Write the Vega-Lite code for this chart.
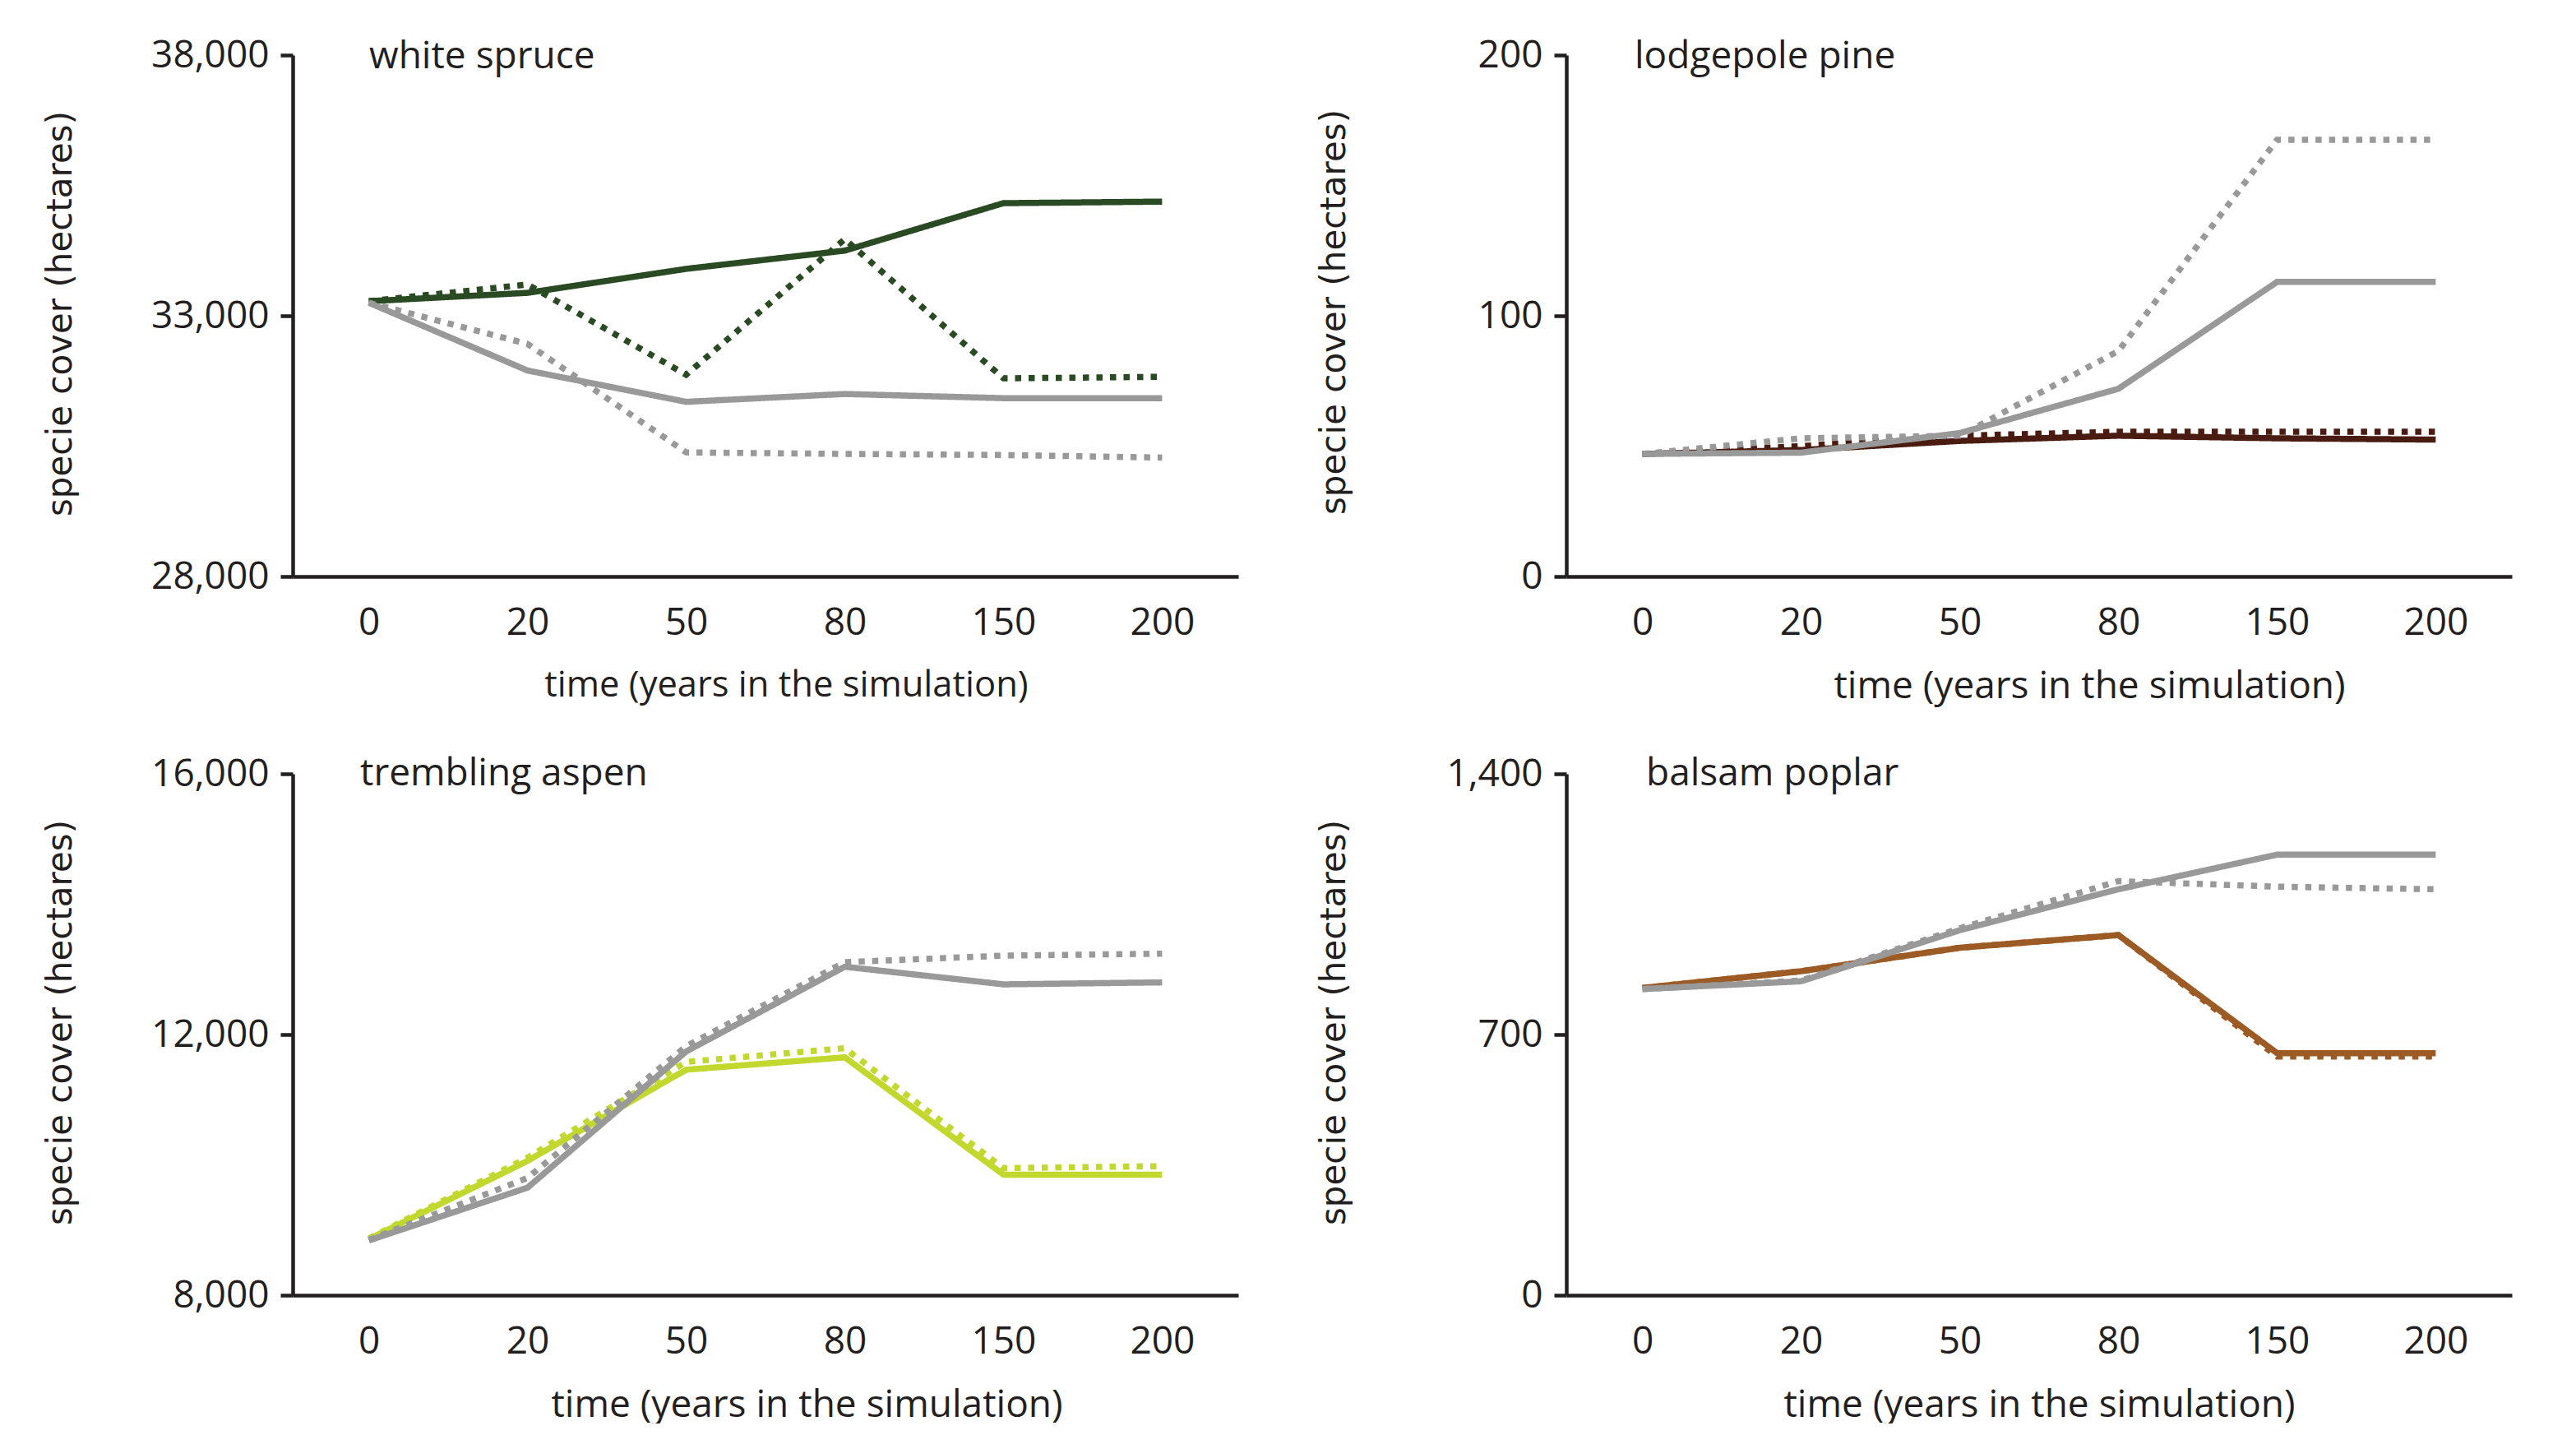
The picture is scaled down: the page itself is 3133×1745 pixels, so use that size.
{
  "$schema": "https://vega.github.io/schema/vega-lite/v6.json",
  "background": "white",
  "padding": {"left": 51, "top": 44, "right": 79, "bottom": 0},
  "bounds": "flush",
  "columns": 2,
  "spacing": {"row": 240, "column": 399},
  "config": {
    "view": {"stroke": null},
    "axis": {"grid": false, "domainColor": "#231f20", "domainWidth": 4.5, "tickColor": "#231f20", "tickWidth": 4.5, "labelColor": "#231f20", "titleColor": "#231f20", "labelFont": "Open Sans", "labelFontSize": 46, "titleFont": "Open Sans", "titleFontSize": 46, "titleFontWeight": "normal"},
    "axisX": {"ticks": false, "labelAngle": 0, "labelPadding": 34, "titleY": 111, "titleBaseline": "top"},
    "axisY": {"tickSize": 15, "labelPadding": 14, "titleFont": "DejaVu Sans", "titleFontSize": 42, "titleX": -283, "titleBaseline": "middle", "titleAngle": -90},
    "title": {"anchor": "start", "frame": "group", "offset": 0, "baseline": "alphabetic", "font": "Open Sans", "fontSize": 46, "fontWeight": "normal", "color": "#231f20"},
    "line": {"strokeWidth": 7.5, "strokeCap": "butt", "strokeJoin": "miter"}
  },
  "resolve": {"scale": {"x": "independent", "y": "independent", "color": "independent", "strokeDash": "independent"}},
  "datasets": {
    "cover": [
      {"species": "white spruce", "series": "B", "time": 0, "value": 33280},
      {"species": "white spruce", "series": "B", "time": 20, "value": 33600},
      {"species": "white spruce", "series": "B", "time": 50, "value": 31870},
      {"species": "white spruce", "series": "B", "time": 80, "value": 34470},
      {"species": "white spruce", "series": "B", "time": 150, "value": 31800},
      {"species": "white spruce", "series": "B", "time": 200, "value": 31830},
      {"species": "white spruce", "series": "A", "time": 0, "value": 33280},
      {"species": "white spruce", "series": "A", "time": 20, "value": 33440},
      {"species": "white spruce", "series": "A", "time": 50, "value": 33900},
      {"species": "white spruce", "series": "A", "time": 80, "value": 34250},
      {"species": "white spruce", "series": "A", "time": 150, "value": 35160},
      {"species": "white spruce", "series": "A", "time": 200, "value": 35190},
      {"species": "white spruce", "series": "D", "time": 0, "value": 33250},
      {"species": "white spruce", "series": "D", "time": 20, "value": 32460},
      {"species": "white spruce", "series": "D", "time": 50, "value": 30380},
      {"species": "white spruce", "series": "D", "time": 80, "value": 30350},
      {"species": "white spruce", "series": "D", "time": 150, "value": 30330},
      {"species": "white spruce", "series": "D", "time": 200, "value": 30280},
      {"species": "white spruce", "series": "C", "time": 0, "value": 33250},
      {"species": "white spruce", "series": "C", "time": 20, "value": 31950},
      {"species": "white spruce", "series": "C", "time": 50, "value": 31350},
      {"species": "white spruce", "series": "C", "time": 80, "value": 31500},
      {"species": "white spruce", "series": "C", "time": 150, "value": 31420},
      {"species": "white spruce", "series": "C", "time": 200, "value": 31420},

      {"species": "lodgepole pine", "series": "B", "time": 0, "value": 47},
      {"species": "lodgepole pine", "series": "B", "time": 20, "value": 50},
      {"species": "lodgepole pine", "series": "B", "time": 50, "value": 54},
      {"species": "lodgepole pine", "series": "B", "time": 80, "value": 55.5},
      {"species": "lodgepole pine", "series": "B", "time": 150, "value": 55.5},
      {"species": "lodgepole pine", "series": "B", "time": 200, "value": 55.5},
      {"species": "lodgepole pine", "series": "A", "time": 0, "value": 47},
      {"species": "lodgepole pine", "series": "A", "time": 20, "value": 48.5},
      {"species": "lodgepole pine", "series": "A", "time": 50, "value": 52},
      {"species": "lodgepole pine", "series": "A", "time": 80, "value": 54},
      {"species": "lodgepole pine", "series": "A", "time": 150, "value": 53},
      {"species": "lodgepole pine", "series": "A", "time": 200, "value": 52.5},
      {"species": "lodgepole pine", "series": "D", "time": 0, "value": 47},
      {"species": "lodgepole pine", "series": "D", "time": 20, "value": 53},
      {"species": "lodgepole pine", "series": "D", "time": 50, "value": 54},
      {"species": "lodgepole pine", "series": "D", "time": 80, "value": 86.5},
      {"species": "lodgepole pine", "series": "D", "time": 150, "value": 167.5},
      {"species": "lodgepole pine", "series": "D", "time": 200, "value": 167.5},
      {"species": "lodgepole pine", "series": "C", "time": 0, "value": 47},
      {"species": "lodgepole pine", "series": "C", "time": 20, "value": 47.5},
      {"species": "lodgepole pine", "series": "C", "time": 50, "value": 55},
      {"species": "lodgepole pine", "series": "C", "time": 80, "value": 72},
      {"species": "lodgepole pine", "series": "C", "time": 150, "value": 113},
      {"species": "lodgepole pine", "series": "C", "time": 200, "value": 113},

      {"species": "trembling aspen", "series": "B", "time": 0, "value": 8870},
      {"species": "trembling aspen", "series": "B", "time": 20, "value": 10110},
      {"species": "trembling aspen", "series": "B", "time": 50, "value": 11580},
      {"species": "trembling aspen", "series": "B", "time": 80, "value": 11790},
      {"species": "trembling aspen", "series": "B", "time": 150, "value": 9950},
      {"species": "trembling aspen", "series": "B", "time": 200, "value": 9980},
      {"species": "trembling aspen", "series": "A", "time": 0, "value": 8860},
      {"species": "trembling aspen", "series": "A", "time": 20, "value": 10060},
      {"species": "trembling aspen", "series": "A", "time": 50, "value": 11460},
      {"species": "trembling aspen", "series": "A", "time": 80, "value": 11650},
      {"species": "trembling aspen", "series": "A", "time": 150, "value": 9850},
      {"species": "trembling aspen", "series": "A", "time": 200, "value": 9850},
      {"species": "trembling aspen", "series": "D", "time": 0, "value": 8850},
      {"species": "trembling aspen", "series": "D", "time": 20, "value": 9800},
      {"species": "trembling aspen", "series": "D", "time": 50, "value": 11820},
      {"species": "trembling aspen", "series": "D", "time": 80, "value": 13110},
      {"species": "trembling aspen", "series": "D", "time": 150, "value": 13210},
      {"species": "trembling aspen", "series": "D", "time": 200, "value": 13240},
      {"species": "trembling aspen", "series": "C", "time": 0, "value": 8840},
      {"species": "trembling aspen", "series": "C", "time": 20, "value": 9650},
      {"species": "trembling aspen", "series": "C", "time": 50, "value": 11740},
      {"species": "trembling aspen", "series": "C", "time": 80, "value": 13040},
      {"species": "trembling aspen", "series": "C", "time": 150, "value": 12770},
      {"species": "trembling aspen", "series": "C", "time": 200, "value": 12800},

      {"species": "balsam poplar", "series": "B", "time": 0, "value": 825},
      {"species": "balsam poplar", "series": "B", "time": 20, "value": 870},
      {"species": "balsam poplar", "series": "B", "time": 50, "value": 933},
      {"species": "balsam poplar", "series": "B", "time": 80, "value": 967},
      {"species": "balsam poplar", "series": "B", "time": 150, "value": 641},
      {"species": "balsam poplar", "series": "B", "time": 200, "value": 641},
      {"species": "balsam poplar", "series": "A", "time": 0, "value": 825},
      {"species": "balsam poplar", "series": "A", "time": 20, "value": 870},
      {"species": "balsam poplar", "series": "A", "time": 50, "value": 933},
      {"species": "balsam poplar", "series": "A", "time": 80, "value": 967},
      {"species": "balsam poplar", "series": "A", "time": 150, "value": 650},
      {"species": "balsam poplar", "series": "A", "time": 200, "value": 650},
      {"species": "balsam poplar", "series": "D", "time": 0, "value": 822},
      {"species": "balsam poplar", "series": "D", "time": 20, "value": 845},
      {"species": "balsam poplar", "series": "D", "time": 50, "value": 985},
      {"species": "balsam poplar", "series": "D", "time": 80, "value": 1112},
      {"species": "balsam poplar", "series": "D", "time": 150, "value": 1097},
      {"species": "balsam poplar", "series": "D", "time": 200, "value": 1090},
      {"species": "balsam poplar", "series": "C", "time": 0, "value": 822},
      {"species": "balsam poplar", "series": "C", "time": 20, "value": 843},
      {"species": "balsam poplar", "series": "C", "time": 50, "value": 980},
      {"species": "balsam poplar", "series": "C", "time": 80, "value": 1090},
      {"species": "balsam poplar", "series": "C", "time": 150, "value": 1183},
      {"species": "balsam poplar", "series": "C", "time": 200, "value": 1183}
    ]
  },
  "concat": [
    {
      "width": 1150, "height": 634,
      "data": {"name": "cover"},
      "title": {"text": "white spruce", "dx": 93, "dy": 53},
      "transform": [{"filter": "datum.species === 'white spruce'"}],
      "mark": {"type": "line"},
      "encoding": {
        "x": {"field": "time", "type": "ordinal", "sort": [0, 20, 50, 80, 150, 200], "scale": {"type": "point", "padding": 0.48}, "axis": {"title": "time (years in the simulation)", "titleFontSize": 43.5, "titleX": 600}},
        "y": {"field": "value", "type": "quantitative", "scale": {"domain": [28000, 38000], "nice": false, "zero": false}, "axis": {"title": "specie cover (hectares)", "values": [28000, 33000, 38000], "format": ",.0f", "titleY": 314}},
        "color": {"field": "series", "type": "nominal", "scale": {"domain": ["A", "B", "C", "D"], "range": ["#294a22", "#294a22", "#999999", "#999999"]}, "legend": null},
        "strokeDash": {"field": "series", "type": "nominal", "scale": {"domain": ["A", "B", "C", "D"], "range": [[1, 0], [7.5, 9], [1, 0], [7.5, 9]]}, "legend": null}
      }
    },
    {
      "width": 1150, "height": 634,
      "data": {"name": "cover"},
      "title": {"text": "lodgepole pine", "dx": 83, "dy": 53},
      "transform": [{"filter": "datum.species === 'lodgepole pine'"}],
      "mark": {"type": "line"},
      "encoding": {
        "x": {"field": "time", "type": "ordinal", "sort": [0, 20, 50, 80, 150, 200], "scale": {"type": "point", "padding": 0.48}, "axis": {"title": "time (years in the simulation)", "titleX": 636}},
        "y": {"field": "value", "type": "quantitative", "scale": {"domain": [0, 200], "nice": false}, "axis": {"title": "specie cover (hectares)", "values": [0, 100, 200], "format": ",.0f", "titleY": 312}},
        "color": {"field": "series", "type": "nominal", "scale": {"domain": ["A", "B", "C", "D"], "range": ["#4a1b10", "#4a1b10", "#999999", "#999999"]}, "legend": null},
        "strokeDash": {"field": "series", "type": "nominal", "scale": {"domain": ["A", "B", "C", "D"], "range": [[1, 0], [7.5, 9], [1, 0], [7.5, 9]]}, "legend": null}
      }
    },
    {
      "width": 1150, "height": 634,
      "data": {"name": "cover"},
      "title": {"text": "trembling aspen", "dx": 82, "dy": 51},
      "transform": [{"filter": "datum.species === 'trembling aspen'"}],
      "mark": {"type": "line"},
      "encoding": {
        "x": {"field": "time", "type": "ordinal", "sort": [0, 20, 50, 80, 150, 200], "scale": {"type": "point", "padding": 0.48}, "axis": {"title": "time (years in the simulation)", "titleX": 625}},
        "y": {"field": "value", "type": "quantitative", "scale": {"domain": [8000, 16000], "nice": false, "zero": false}, "axis": {"title": "specie cover (hectares)", "values": [8000, 12000, 16000], "format": ",.0f", "titleY": 302}},
        "color": {"field": "series", "type": "nominal", "scale": {"domain": ["A", "B", "C", "D"], "range": ["#c3d82e", "#c3d82e", "#999999", "#999999"]}, "legend": null},
        "strokeDash": {"field": "series", "type": "nominal", "scale": {"domain": ["A", "B", "C", "D"], "range": [[1, 0], [7.5, 9], [1, 0], [7.5, 9]]}, "legend": null}
      }
    },
    {
      "width": 1150, "height": 634,
      "data": {"name": "cover"},
      "title": {"text": "balsam poplar", "dx": 97, "dy": 51},
      "transform": [{"filter": "datum.species === 'balsam poplar'"}],
      "mark": {"type": "line"},
      "encoding": {
        "x": {"field": "time", "type": "ordinal", "sort": [0, 20, 50, 80, 150, 200], "scale": {"type": "point", "padding": 0.48}, "axis": {"title": "time (years in the simulation)"}},
        "y": {"field": "value", "type": "quantitative", "scale": {"domain": [0, 1400], "nice": false}, "axis": {"title": "specie cover (hectares)", "values": [0, 700, 1400], "format": ",.0f", "titleY": 302}},
        "color": {"field": "series", "type": "nominal", "scale": {"domain": ["A", "B", "C", "D"], "range": ["#9c5a24", "#9c5a24", "#999999", "#999999"]}, "legend": null},
        "strokeDash": {"field": "series", "type": "nominal", "scale": {"domain": ["A", "B", "C", "D"], "range": [[1, 0], [7.5, 9], [1, 0], [7.5, 9]]}, "legend": null}
      }
    }
  ]
}
